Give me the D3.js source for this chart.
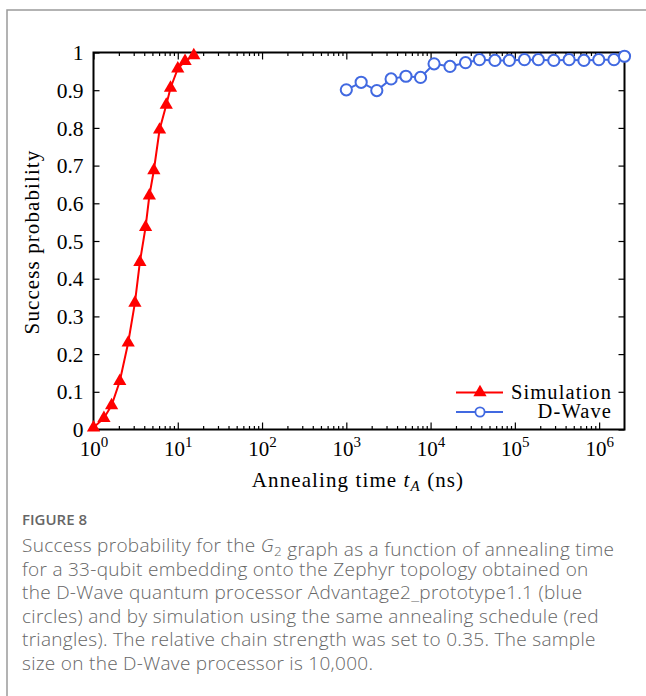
<!DOCTYPE html>
<html>
<head>
<meta charset="utf-8">
<script src="https://cdn.jsdelivr.net/npm/d3@7"></script>
<style>
  html, body { margin: 0; padding: 0; background: #fff; }
  svg { display: block; }
  .serif { font-family: "Liberation Serif", "Times New Roman", serif; fill: #000; }
  .caption { font-family: "Open Sans", "Noto Sans", sans-serif; fill: #666; }
</style>
</head>
<body>
<svg id="fig" width="646" height="696"></svg>
<script>
// Simulated success probability vs annealing time (ns)
const simTime = [1, 1.33, 1.64, 2.05, 2.58, 3.1, 3.55, 4.15, 4.6, 5.2, 6.08, 7.3, 8.2, 10, 12.2, 15.5];
const simProb = [0.005, 0.03, 0.064, 0.128, 0.23, 0.336, 0.444, 0.537, 0.62, 0.687, 0.795, 0.861, 0.906, 0.957, 0.977, 0.992];

// D-Wave Advantage2_prototype1.1 success probability vs annealing time (ns)
const dwTime = [1000, 1500, 2300, 3400, 5100, 7600, 11000, 17000, 26000, 38000, 58000, 86000,
                130000, 190000, 290000, 440000, 660000, 990000, 1500000, 2000000];
const dwProb = [0.901, 0.921, 0.899, 0.930, 0.937, 0.934, 0.970, 0.963, 0.973, 0.981, 0.979, 0.979,
                0.981, 0.981, 0.979, 0.981, 0.979, 0.981, 0.981, 0.990];

const xDecades = [0, 1, 2, 3, 4, 5, 6];
const yTicks = [0, 0.1, 0.2, 0.3, 0.4, 0.5, 0.6, 0.7, 0.8, 0.9, 1];
const legendLabels = ["Simulation", "D-Wave"];
const captionTitle = "FIGURE 8";

const svg = d3.select("#fig");

// outer figure frame
svg.append("rect")
  .attr("x", 7).attr("y", 10).attr("width", 800).attr("height", 900)
  .attr("fill", "none").attr("stroke", "#9a9a9a").attr("stroke-width", 1.5);

const L = 93.5, R = 624.5, T = 52.5, B = 429.5;
const x = d3.scaleLog().domain([1, 2e6]).range([L, R]);
const y = d3.scaleLinear().domain([0, 1]).range([B, T]);

const majorX = xDecades.map(e => Math.pow(10, e));
const minorX = [];
xDecades.forEach(e => { for (let k = 2; k <= 9; k++) { const v = k * Math.pow(10, e); if (v < 2e6) minorX.push(v); } });

function styleAxis(g) {
  g.select(".domain").remove();
  g.selectAll(".tick line").attr("stroke", "#000").attr("stroke-width", 1.2);
}

// bottom / top ticks (pointing inward)
svg.append("g").attr("transform", `translate(0,${B})`)
  .call(d3.axisBottom(x).tickValues(minorX).tickSizeInner(-3.5).tickSizeOuter(0).tickFormat(""))
  .call(styleAxis);
const bottomMajor = svg.append("g").attr("transform", `translate(0,${B})`)
  .call(d3.axisBottom(x).tickValues(majorX).tickSizeInner(-7).tickSizeOuter(0).tickFormat(""))
  .call(styleAxis);
svg.append("g").attr("transform", `translate(0,${T})`)
  .call(d3.axisTop(x).tickValues(minorX).tickSizeInner(-3.5).tickSizeOuter(0).tickFormat(""))
  .call(styleAxis);
svg.append("g").attr("transform", `translate(0,${T})`)
  .call(d3.axisTop(x).tickValues(majorX).tickSizeInner(-7).tickSizeOuter(0).tickFormat(""))
  .call(styleAxis);

// decade labels 10^n
bottomMajor.selectAll(".tick").each(function(d) {
  const t = d3.select(this).append("text")
    .attr("class", "serif").attr("y", 26).attr("text-anchor", "middle")
    .style("font-size", "21px");
  t.append("tspan").text("10");
  t.append("tspan").attr("dy", -9).style("font-size", "15px").text(Math.round(Math.log10(d)));
});

// left / right ticks
const leftAxis = svg.append("g").attr("transform", `translate(${L},0)`)
  .call(d3.axisLeft(y).tickValues(yTicks).tickSizeInner(-6).tickSizeOuter(0).tickPadding(10)
    .tickFormat(d => (d === 0 || d === 1) ? String(d) : d.toFixed(1)))
  .call(styleAxis);
leftAxis.selectAll(".tick text")
  .attr("class", "serif").attr("x", -10).attr("dy", "0.33em")
  .style("font-size", "21.5px").attr("fill", "#000");
svg.append("g").attr("transform", `translate(${R},0)`)
  .call(d3.axisRight(y).tickValues(yTicks).tickSizeInner(-6).tickSizeOuter(0).tickFormat(""))
  .call(styleAxis);

// plot frame
svg.append("rect")
  .attr("x", L).attr("y", T).attr("width", R - L).attr("height", B - T)
  .attr("fill", "none").attr("stroke", "#000").attr("stroke-width", 2);

const red = "#ff0000", blue = "#4169e1";
const line = d3.line().x(d => x(d[0])).y(d => y(d[1]));
const simPts = simTime.map((t, i) => [t, simProb[i]]);
const dwPts = dwTime.map((t, i) => [t, dwProb[i]]);
const tri = d3.symbol().type(d3.symbolTriangle).size(76);

// D-Wave series
svg.append("path").datum(dwPts).attr("d", line)
  .attr("fill", "none").attr("stroke", blue).attr("stroke-width", 2);
svg.append("g").selectAll("circle").data(dwPts).join("circle")
  .attr("cx", d => x(d[0])).attr("cy", d => y(d[1])).attr("r", 5.6)
  .attr("fill", "#fff").attr("stroke", blue).attr("stroke-width", 2);

// simulation series
svg.append("path").datum(simPts).attr("d", line)
  .attr("fill", "none").attr("stroke", red).attr("stroke-width", 2);
svg.append("g").selectAll("path").data(simPts).join("path")
  .attr("d", tri).attr("transform", d => `translate(${x(d[0])},${y(d[1])})`)
  .attr("fill", red);

// legend
const lg = svg.append("g");
const lgRows = [
  { label: legendLabels[0], color: red, y: 392.5, mark: "tri" },
  { label: legendLabels[1], color: blue, y: 412, mark: "circ" }
];
lgRows.forEach(r => {
  lg.append("line").attr("x1", 456).attr("x2", 503).attr("y1", r.y).attr("y2", r.y)
    .attr("stroke", r.color).attr("stroke-width", 2);
  if (r.mark === "tri") {
    lg.append("path").attr("d", tri).attr("transform", `translate(480,${r.y})`).attr("fill", r.color);
  } else {
    lg.append("circle").attr("cx", 480).attr("cy", r.y).attr("r", 4.6)
      .attr("fill", "#fff").attr("stroke", r.color).attr("stroke-width", 1.8);
  }
  lg.append("text").attr("class", "serif").attr("x", 612).attr("y", r.y + 6)
    .attr("text-anchor", "end").style("font-size", "20.5px").style("letter-spacing", "1.1px")
    .text(r.label);
});

// axis titles
const xt = svg.append("text").attr("class", "serif")
  .attr("x", 358).attr("y", 487).attr("text-anchor", "middle")
  .style("font-size", "21px").style("letter-spacing", "1.1px");
xt.append("tspan").text("Annealing time ");
xt.append("tspan").style("font-style", "italic").text("t");
xt.append("tspan").attr("dy", 4).style("font-size", "15px").style("font-style", "italic").text("A");
xt.append("tspan").attr("dy", -4).text(" (ns)");

svg.append("text").attr("class", "serif")
  .attr("transform", "translate(39,242) rotate(-90)")
  .attr("text-anchor", "middle")
  .style("font-size", "21px").style("letter-spacing", "1.1px")
  .text("Success probability");

// caption
svg.append("text").attr("class", "caption")
  .attr("x", 22).attr("y", 525)
  .style("font-size", "15px").style("font-weight", 600)
  .text(captionTitle);

const capLines = [
  ["Success probability for the ", ["G", "2"], " graph as a function of annealing time"],
  ["for a 33-qubit embedding onto the Zephyr topology obtained on"],
  ["the D-Wave quantum processor Advantage2_prototype1.1 (blue"],
  ["circles) and by simulation using the same annealing schedule (red"],
  ["triangles). The relative chain strength was set to 0.35. The sample"],
  ["size on the D-Wave processor is 10,000."]
];
capLines.forEach((parts, i) => {
  const t = svg.append("text").attr("class", "caption")
    .attr("x", 22).attr("y", 552 + i * 23.6)
    .style("font-size", "19px").style("font-weight", 300).style("letter-spacing", "0.3px");
  parts.forEach(p => {
    if (Array.isArray(p)) {
      t.append("tspan").style("font-style", "italic").text(p[0]);
      t.append("tspan").attr("dy", 4).style("font-size", "13.5px").text(p[1]);
      t.append("tspan").attr("dy", -4).text("");
    } else {
      t.append("tspan").text(p);
    }
  });
});
</script>
</body>
</html>
